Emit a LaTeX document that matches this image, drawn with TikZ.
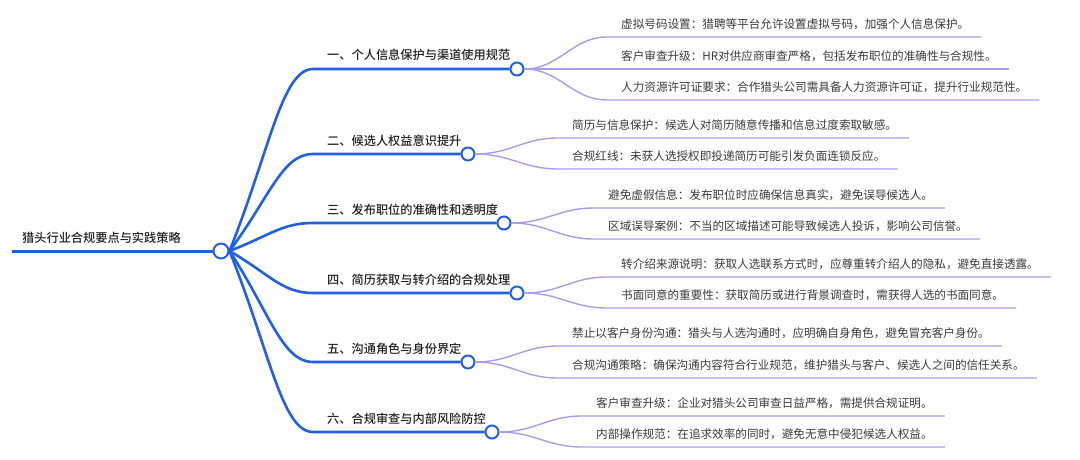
\documentclass[tikz,border=0pt]{standalone}
\usepackage{fontspec}
\usetikzlibrary{calc}
\newfontfamily\cjk{Noto Sans CJK SC}
\newfontfamily\cjkmid{Noto Sans CJK SC}[UprightFont={* Medium}]
\definecolor{branchBlue}{HTML}{2160E3}
\definecolor{leafPurple}{HTML}{A99CEE}
\definecolor{labelDark}{HTML}{222222}
\definecolor{leafGray}{HTML}{3A3A3A}
\tikzset{
    hub/.style={circle, draw=branchBlue, line width=2pt, fill=white, inner sep=0pt, minimum size=13pt},
    trunk/.style={branchBlue, line width=2.6pt},
    twig/.style={leafPurple, line width=1.4pt},
    topicLabel/.style={anchor=base west, inner sep=0pt, text=labelDark, font=\cjkmid\fontsize{12.2}{14}\selectfont},
    leafLabel/.style={anchor=base west, inner sep=0pt, text=leafGray, font=\cjk\fontsize{11.6}{14}\selectfont}
}

\begin{document}
\begin{tikzpicture}[x=1pt, y=-1pt]
    \useasboundingbox (0,0) rectangle (1080,460);
    % root
    \coordinate (rootStart) at (12,251);
    \node[hub, minimum size=15pt] (root) at (221,251) {};
    \draw[trunk, line width=3pt] (rootStart) -- (root.west);
    \node[topicLabel] (rootLabel) at (22,242) {猎头行业合规要点与实践策略};
    % topics
    \foreach \i/\ty/\hx/\txt in {
        1/69/517/{一、个人信息保护与渠道使用规范},
        2/154/468/{二、候选人权益意识提升},
        3/223/504/{三、发布职位的准确性和透明度},
        4/293/517/{四、简历获取与转介绍的合规处理},
        5/362/468/{五、沟通角色与身份界定},
        6/432/492/{六、合规审查与内部风险防控}}{
        \pgfmathsetmacro{\cy}{0.55*(\ty-251)}
        \coordinate (topicStart\i) at (313,\ty);
        \node[hub] (hub\i) at (\hx,\ty) {};
        \node[topicLabel] (topic\i) at (327,\ty-9) {\txt};
        \draw[trunk] (root.east) .. controls +(40,\cy) and +(-31,0) .. (topicStart\i) -- (hub\i.west);
    }
    % leaves
    \foreach \p/\hx/\ly/\txt in {
        1/517/37/{虚拟号码设置：猎聘等平台允许设置虚拟号码，加强个人信息保护。},
        1/517/69/{客户审查升级：HR对供应商审查严格，包括发布职位的准确性与合规性。},
        1/517/100/{人力资源许可证要求：合作猎头公司需具备人力资源许可证，提升行业规范性。},
        2/468/138/{简历与信息保护：候选人对简历随意传播和信息过度索取敏感。},
        2/468/169/{合规红线：未获人选授权即投递简历可能引发负面连锁反应。},
        3/504/208/{避免虚假信息：发布职位时应确保信息真实，避免误导候选人。},
        3/504/239/{区域误导案例：不当的区域描述可能导致候选人投诉，影响公司信誉。},
        4/517/277/{转介绍来源说明：获取人选联系方式时，应尊重转介绍人的隐私，避免直接透露。},
        4/517/308/{书面同意的重要性：获取简历或进行背景调查时，需获得人选的书面同意。},
        5/468/346/{禁止以客户身份沟通：猎头与人选沟通时，应明确自身角色，避免冒充客户身份。},
        5/468/378/{合规沟通策略：确保沟通内容符合行业规范，维护猎头与客户、候选人之间的信任关系。},
        6/492/416/{客户审查升级：企业对猎头公司审查日益严格，需提供合规证明。},
        6/492/447/{内部操作规范：在追求效率的同时，避免无意中侵犯候选人权益。}}{
        \coordinate (leafStart) at (\hx+90,\ly);
        \node[leafLabel] (leaf) at (\hx+104,\ly-8.5) {\txt};
        \coordinate (leafEnd) at ($(leafStart -| leaf.east)+(12,0)$);
        \draw[twig] (hub\p.east) .. controls +(35,0) and +(-35,0) .. (leafStart) -- (leafEnd);
    }
\end{tikzpicture}
\end{document}
